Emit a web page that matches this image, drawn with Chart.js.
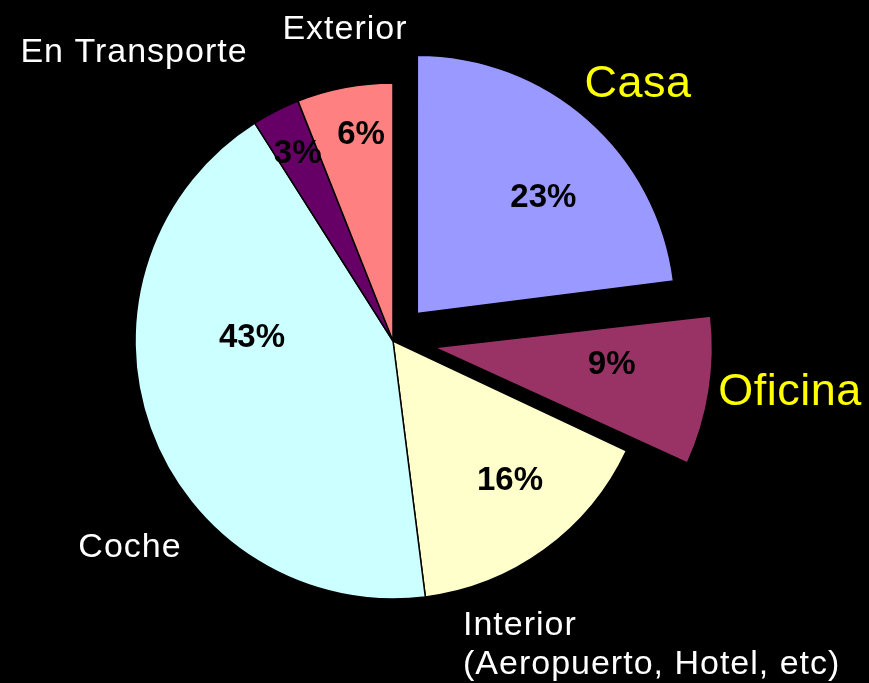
<!DOCTYPE html>
<html lang="es">
<head>
  <meta charset="UTF-8">
  <title>Distribución por lugar</title>
  <script src="https://cdn.jsdelivr.net/npm/chart.js"></script>
  <style>
    * { margin: 0; padding: 0; box-sizing: border-box; }
    body { background: #000; width: 869px; height: 683px; overflow: hidden; }
    canvas { display: block; }
  </style>
</head>
<body>
  <canvas id="chart" width="869" height="683"></canvas>

  <script>
    // data
    const categories = ['Casa', 'Oficina', 'Interior\n(Aeropuerto, Hotel, etc)', 'Coche', 'En Transporte', 'Exterior'];
    const shares = [23, 9, 16, 43, 3, 6];
    const highlighted = ['Casa', 'Oficina'];

    // looks
    const sliceColors = ['#9999FF', '#993366', '#FFFFCC', '#CCFFFF', '#660066', '#FF8080'];
    const sliceShift = [37, 62, 0, 0, 0, 0]; // wanted pixel displacement of exploded slices
    // percent label: [angle shift in degrees, distance from slice tip in px]
    const pctPlace = [[6, 171], [-4, 158], [-4, 182], [21, 141], [0, 210], [2, 209]];
    // category label anchor relative to pie centre
    const namePlace = [
      { dx: 245, dy: -244, align: 'center' },
      { dx: 397, dy: 64, align: 'center' },
      { dx: 70, dy: 294, align: 'left' },
      { dx: -263, dy: 216, align: 'center' },
      { dx: -259, dy: -279, align: 'center' },
      { dx: -48, dy: -302, align: 'center' }
    ];

    // Chart.js v4 moves an arc by offset/4 * (1 + fix), fix = 1 - sin(min(PI, circumference))
    const total = shares.reduce((s, v) => s + v, 0);
    const sliceOffsets = shares.map((v, i) => {
      const circ = v / total * Math.PI * 2;
      const fix = 1 - Math.sin(Math.min(Math.PI, circ));
      return sliceShift[i] * 4 / (1 + fix);
    });

    const labelPlugin = {
      id: 'sliceLabels',
      afterDatasetsDraw(chart) {
        const ctx = chart.ctx;
        const arcs = chart.getDatasetMeta(0).data;
        ctx.save();
        arcs.forEach((arc, i) => {
          const mid = (arc.startAngle + arc.endAngle) / 2;
          const off = sliceShift[i];
          const tipX = arc.x + Math.cos(mid) * off;
          const tipY = arc.y + Math.sin(mid) * off;
          const a = mid + pctPlace[i][0] * Math.PI / 180;
          const d = pctPlace[i][1];
          ctx.letterSpacing = '0px';
          ctx.fillStyle = '#000';
          ctx.font = 'bold 33px "Liberation Sans", Arial, sans-serif';
          ctx.textAlign = 'center';
          ctx.textBaseline = 'middle';
          ctx.fillText(shares[i] + '%', tipX + Math.cos(a) * d, tipY + Math.sin(a) * d);

          const big = highlighted.includes(categories[i]);
          const p = namePlace[i];
          ctx.fillStyle = big ? '#FFFF00' : '#FFFFFF';
          ctx.font = (big ? '45px' : '34px') + ' "Liberation Sans", Arial, sans-serif';
          ctx.letterSpacing = big ? '0.5px' : '1px';
          ctx.textAlign = p.align;
          ctx.textBaseline = 'alphabetic';
          categories[i].split('\n').forEach((line, j) => {
            ctx.fillText(line, arc.x + p.dx, arc.y + p.dy + j * 39);
          });
        });
        ctx.restore();
      }
    };

    new Chart(document.getElementById('chart'), {
      type: 'pie',
      data: {
        labels: categories,
        datasets: [{
          data: shares,
          backgroundColor: sliceColors,
          borderColor: '#000',
          borderWidth: 1.5,
          offset: sliceOffsets
        }]
      },
      options: {
        responsive: false,
        animation: false,
        radius: 258,
        layout: { padding: { left: 0, right: 83, top: 0, bottom: 1 } },
        plugins: {
          legend: { display: false },
          tooltip: { enabled: false }
        }
      },
      plugins: [labelPlugin]
    });
  </script>
</body>
</html>
